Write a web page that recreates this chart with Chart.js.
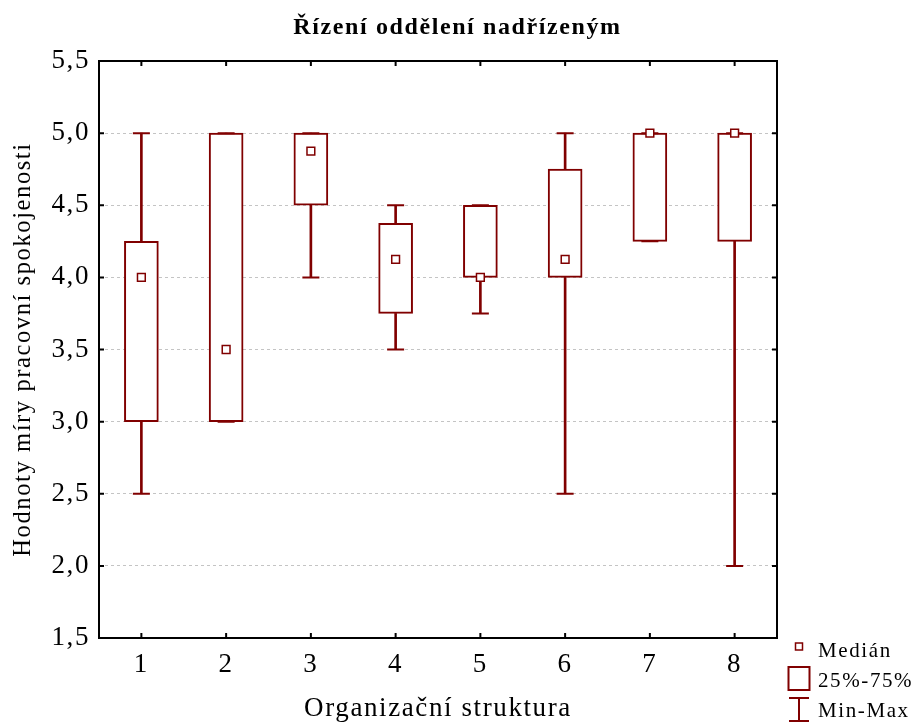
<!DOCTYPE html>
<html lang="cs">
<head>
<meta charset="utf-8" />
<title>Řízení oddělení nadřízeným</title>
<script src="https://cdn.jsdelivr.net/npm/chart.js"></script>
<style>
  body { margin: 0; background: #fff; }
  #wrap { width: 915px; height: 725px; }
</style>
</head>
<body>
<div id="wrap"><canvas id="boxChart" width="915" height="725"></canvas></div>
<script>
    // data
    const categories = ['1', '2', '3', '4', '5', '6', '7', '8'];
    const minValues = [2.5, 3.0, 4.0, 3.5, 3.75, 2.5, 4.25, 2.0];
    const q1Values = [3.0, 3.0, 4.5, 3.75, 4.0, 4.0, 4.25, 4.25];
    const medianValues = [4.0, 3.5, 4.875, 4.125, 4.0, 4.125, 5.0, 5.0];
    const q3Values = [4.25, 5.0, 5.0, 4.375, 4.5, 4.75, 5.0, 5.0];
    const maxValues = [5.0, 5.0, 5.0, 4.5, 4.5, 5.0, 5.0, 5.0];
    const yTicks = [1.5, 2.0, 2.5, 3.0, 3.5, 4.0, 4.5, 5.0, 5.5];
    const legendLabels = ['Medián', '25%-75%', 'Min-Max'];

    const RED = '#800000';
    const SERIF = "'Liberation Serif', 'Times New Roman', serif";

    // slightly wider glyph spacing like the original rendering
    const spacingPlugin = {
        id: 'spacing',
        beforeDraw(chart) {
            chart.ctx.letterSpacing = '1.6px';
        }
    };

    // black frame on all four sides with inward tick marks
    const framePlugin = {
        id: 'frame',
        afterDatasetsDraw(chart) {
            const { ctx, chartArea: a, scales } = chart;
            ctx.save();
            ctx.strokeStyle = '#000';
            ctx.lineWidth = 2;
            ctx.setLineDash([]);
            ctx.strokeRect(a.left, a.top, a.right - a.left, a.bottom - a.top);
            ctx.beginPath();
            yTicks.forEach(v => {
                const y = scales.y.getPixelForValue(v);
                ctx.moveTo(a.left, y); ctx.lineTo(a.left + 5, y);
                ctx.moveTo(a.right, y); ctx.lineTo(a.right - 5, y);
            });
            categories.forEach((c, i) => {
                const x = scales.x.getPixelForValue(i);
                ctx.moveTo(x, a.top); ctx.lineTo(x, a.top + 5);
                ctx.moveTo(x, a.bottom); ctx.lineTo(x, a.bottom - 5);
            });
            ctx.stroke();
            ctx.restore();
        }
    };

    // legend in the lower right corner
    const legendPlugin = {
        id: 'boxLegend',
        afterDraw(chart) {
            const { ctx, chartArea: a } = chart;
            const ix = a.right + 22;
            const tx = a.right + 41;
            ctx.save();
            ctx.strokeStyle = RED;
            ctx.fillStyle = '#fff';
            // median
            ctx.lineWidth = 1.5;
            ctx.strokeRect(ix - 3.5, a.bottom + 5, 7, 7);
            // box
            ctx.lineWidth = 2;
            ctx.strokeRect(ix - 10.5, a.bottom + 29, 21, 23);
            // min-max
            ctx.beginPath();
            ctx.moveTo(ix - 10, a.bottom + 60); ctx.lineTo(ix + 10, a.bottom + 60);
            ctx.moveTo(ix, a.bottom + 60); ctx.lineTo(ix, a.bottom + 83);
            ctx.moveTo(ix - 10, a.bottom + 83); ctx.lineTo(ix + 10, a.bottom + 83);
            ctx.stroke();
            ctx.fillStyle = '#000';
            ctx.font = '21px ' + SERIF;
            ctx.textBaseline = 'middle';
            ctx.textAlign = 'left';
            ctx.fillText(legendLabels[0], tx, a.bottom + 13);
            ctx.fillText(legendLabels[1], tx, a.bottom + 43);
            ctx.fillText(legendLabels[2], tx, a.bottom + 73);
            ctx.restore();
        }
    };

    const ctx = document.getElementById('boxChart').getContext('2d');
    new Chart(ctx, {
        type: 'bar',
        data: {
            labels: categories,
            datasets: [
                {
                    label: 'dolní vous',
                    data: categories.map((c, i) => [minValues[i], q1Values[i]]),
                    backgroundColor: RED,
                    borderWidth: 0,
                    barThickness: 2,
                    grouped: false,
                    order: 3
                },
                {
                    label: 'horní vous',
                    data: categories.map((c, i) => [q3Values[i], maxValues[i]]),
                    backgroundColor: RED,
                    borderWidth: 0,
                    barThickness: 2,
                    grouped: false,
                    order: 3
                },
                {
                    label: '25%-75%',
                    data: categories.map((c, i) => [q1Values[i], q3Values[i]]),
                    backgroundColor: '#fff',
                    borderColor: RED,
                    borderWidth: 2,
                    borderSkipped: false,
                    barThickness: 34,
                    grouped: false,
                    order: 2
                },
                {
                    type: 'line',
                    label: 'Min',
                    data: minValues,
                    showLine: false,
                    pointStyle: 'line',
                    pointRadius: 8.5,
                    pointBorderWidth: 2,
                    pointBorderColor: RED,
                    order: 1
                },
                {
                    type: 'line',
                    label: 'Max',
                    data: maxValues,
                    showLine: false,
                    pointStyle: 'line',
                    pointRadius: 8.5,
                    pointBorderWidth: 2,
                    pointBorderColor: RED,
                    order: 1
                },
                {
                    type: 'line',
                    label: 'Medián',
                    data: medianValues,
                    showLine: false,
                    pointStyle: 'rect',
                    pointRadius: 5.5,
                    pointBorderWidth: 1.5,
                    pointBorderColor: RED,
                    pointBackgroundColor: '#fff',
                    order: 0
                }
            ]
        },
        options: {
            responsive: false,
            animation: false,
            events: [],
            layout: { padding: 0 },
            scales: {
                x: {
                    offset: true,
                    grid: { display: false, drawTicks: false },
                    border: { display: false },
                    ticks: {
                        color: '#000',
                        padding: 11,
                        font: { family: SERIF, size: 27 }
                    },
                    title: {
                        display: true,
                        text: 'Organizační struktura',
                        color: '#000',
                        padding: { top: 0, bottom: 0 },
                        font: { family: SERIF, size: 27 }
                    },
                    afterFit(scale) { scale.height = 87; }
                },
                y: {
                    min: 1.5,
                    max: 5.5,
                    afterBuildTicks(scale) {
                        scale.ticks = yTicks.map(v => ({ value: v }));
                    },
                    grid: {
                        color: '#c4c4c4',
                        lineWidth: 1,
                        drawTicks: false
                    },
                    border: { display: false, dash: [3, 3] },
                    ticks: {
                        color: '#000',
                        padding: 9,
                        font: { family: SERIF, size: 27 },
                        callback: v => Number(v).toFixed(1).replace('.', ',')
                    },
                    title: {
                        display: true,
                        text: 'Hodnoty míry pracovní spokojenosti',
                        color: '#000',
                        padding: { top: 9, bottom: 0 },
                        font: { family: SERIF, size: 24.5 }
                    },
                    afterFit(scale) { scale.width = 99; }
                },
                // empty right-hand axis that keeps room for the legend
                yRight: {
                    position: 'right',
                    min: 1.5,
                    max: 5.5,
                    grid: { display: false, drawTicks: false },
                    border: { display: false },
                    ticks: { display: false },
                    afterFit(scale) { scale.width = 138; }
                }
            },
            plugins: {
                legend: { display: false },
                tooltip: { enabled: false },
                title: {
                    display: true,
                    text: 'Řízení oddělení nadřízeným',
                    color: '#000',
                    padding: { top: 13.3, bottom: 18.9 },
                    font: { family: SERIF, size: 24, weight: 'bold' }
                }
            }
        },
        plugins: [spacingPlugin, framePlugin, legendPlugin]
    });
</script>
</body>
</html>
